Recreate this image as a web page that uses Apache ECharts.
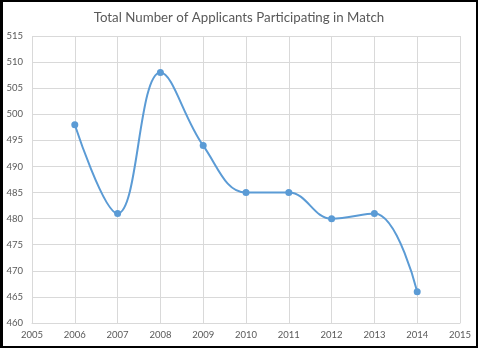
<!DOCTYPE html>
<html><head><meta charset="utf-8">
<script src="https://cdn.jsdelivr.net/npm/echarts@6/dist/echarts.min.js"></script>
<style>
html,body{margin:0;padding:0;background:#fff;}
#frame{position:absolute;left:0;top:0;width:478px;height:348px;box-sizing:border-box;border:2px solid #000;border-left-width:3px;}
#c{position:absolute;left:0;top:0;width:478px;height:348px;}
</style></head>
<body>
<div id="c"></div>
<div id="frame"></div>
<script>
const years = [2006, 2007, 2008, 2009, 2010, 2011, 2012, 2013, 2014];
const applicants = [498, 481, 508, 494, 485, 485, 480, 481, 466];
const titleText = 'Total Number of Applicants Participating in Match';

const chart = echarts.init(document.getElementById('c'), null, {renderer:'canvas'});
chart.setOption({
  animation:false,
  title:{text:titleText,left:'center',top:6,textStyle:{fontFamily:'Lato',fontSize:13.3,fontWeight:'normal',color:'#595959'}},
  grid:{left:32,right:18,top:36,bottom:25,containLabel:false},
  xAxis:{type:'value',min:2005,max:2015,interval:1,
    axisLine:{show:true,lineStyle:{color:'#d9d9d9'}},axisTick:{show:false},
    axisLabel:{color:'#595959',fontFamily:'Lato',fontSize:9.5,margin:7,formatter:v=>String(v)},
    splitLine:{show:true,lineStyle:{color:'#d9d9d9'}}},
  yAxis:{type:'value',min:460,max:515,interval:5,
    axisLine:{show:false},axisTick:{show:false},
    axisLabel:{color:'#595959',fontFamily:'Lato',fontSize:9.5,margin:9},
    splitLine:{show:true,lineStyle:{color:'#d9d9d9'}}},
  series:[{type:'line',data:years.map((y,i)=>[y,applicants[i]]),smooth:0.4,
    symbol:'circle',symbolSize:7,
    lineStyle:{color:'#5b9bd5',width:2},itemStyle:{color:'#5b9bd5'}}]
});
</script>
</body></html>
